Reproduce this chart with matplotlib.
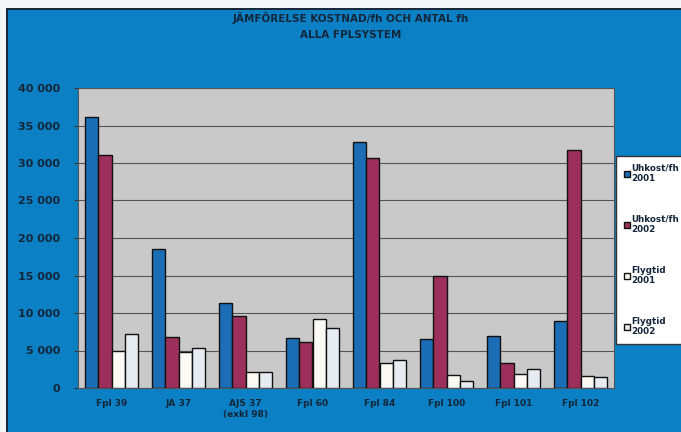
import numpy as np
import matplotlib.pyplot as plt
from matplotlib.patches import Rectangle

categories = ['Fpl 39', 'JA 37', 'AJS 37\n(exkl 98)', 'Fpl 60', 'Fpl 84', 'Fpl 100', 'Fpl 101', 'Fpl 102']
uhkost_2001 = [36100, 18600, 11400, 6700, 32800, 6600, 6900, 9000]
uhkost_2002 = [31000, 6750, 9600, 6200, 30600, 15000, 3300, 31700]
flygtid_2001 = [4900, 4800, 2100, 9150, 3300, 1800, 1900, 1600]
flygtid_2002 = [7200, 5400, 2100, 8000, 3700, 900, 2600, 1500]
labels = ['Uhkost/fh\n2001', 'Uhkost/fh\n2002', 'Flygtid\n2001', 'Flygtid\n2002']
colors = ['#1b6db5', '#9c2f5c', '#fbfaf4', '#e6ecf2']

bg = '#0b80c4'
txt = '#13263a'

fig = plt.figure(figsize=(6.81, 4.32), dpi=100, facecolor=bg)
# white strip at top and left, like the scanned page
fig.patches.append(Rectangle((0, 1 - 8/432), 1, 8/432, transform=fig.transFigure,
                             facecolor='#f4f6f8', edgecolor='none'))
fig.patches.append(Rectangle((0, 1 - 10/432), 1, 2/432, transform=fig.transFigure,
                             facecolor='#1a2a3a', edgecolor='none'))
fig.patches.append(Rectangle((0, 0), 6/681, 1, transform=fig.transFigure,
                             facecolor='#f4f6f8', edgecolor='none'))
fig.patches.append(Rectangle((6/681, 0), 2/681, 1 - 8/432, transform=fig.transFigure,
                             facecolor='#1a2a3a', edgecolor='none'))

ax = fig.add_axes([78/681, 44/432, 536/681, 300/432])
ax.set_facecolor('#c9c9c9')

x = np.arange(len(categories))
w = 0.195
series = [uhkost_2001, uhkost_2002, flygtid_2001, flygtid_2002]
handles = []
for i, (vals, c) in enumerate(zip(series, colors)):
    b = ax.bar(x + (i - 1.5) * w, vals, w, color=c, edgecolor='#111111', linewidth=1.0,
               zorder=3, label=labels[i])
    handles.append(b)

ax.set_xlim(-0.5, len(categories) - 0.5)
ax.set_ylim(0, 40000)
ax.set_yticks(range(0, 40001, 5000))
ax.set_yticklabels([f'{v:,}'.replace(',', ' ') for v in range(0, 40001, 5000)])
ax.yaxis.grid(True, color='#555555', linewidth=0.8, zorder=0)
ax.set_axisbelow(True)
ax.set_xticks(x)
ax.set_xticklabels(categories)
ax.tick_params(axis='x', length=0, pad=8, labelsize=6.5, labelcolor=txt)
ax.tick_params(axis='y', length=3, color='#333333', pad=10, labelsize=8, labelcolor=txt)
for lbl in ax.get_xticklabels() + ax.get_yticklabels():
    lbl.set_fontweight('bold')
for s in ax.spines.values():
    s.set_color('#555555')

fig.text(0.515, 0.958, 'JÄMFÖRELSE KOSTNAD/fh OCH ANTAL fh', ha='center', va='center',
         fontsize=7.5, fontweight='bold', color=txt)
fig.text(0.515, 0.919, 'ALLA FPLSYSTEM', ha='center', va='center',
         fontsize=7.5, fontweight='bold', color=txt)

leg = fig.legend(handles=handles, labels=labels, loc='center left',
                 bbox_to_anchor=(616/681, 182/432), borderaxespad=0, frameon=True, fancybox=False,
                 framealpha=1, handlelength=0.7, handleheight=0.7, handletextpad=0.2,
                 labelspacing=3.6, borderpad=0.9, prop={'size': 6.3, 'weight': 'bold'})
leg.get_frame().set_facecolor('white')
leg.get_frame().set_edgecolor('#333333')
for t in leg.get_texts():
    t.set_color(txt)

fig.savefig('out.png', dpi=100, facecolor=bg)
